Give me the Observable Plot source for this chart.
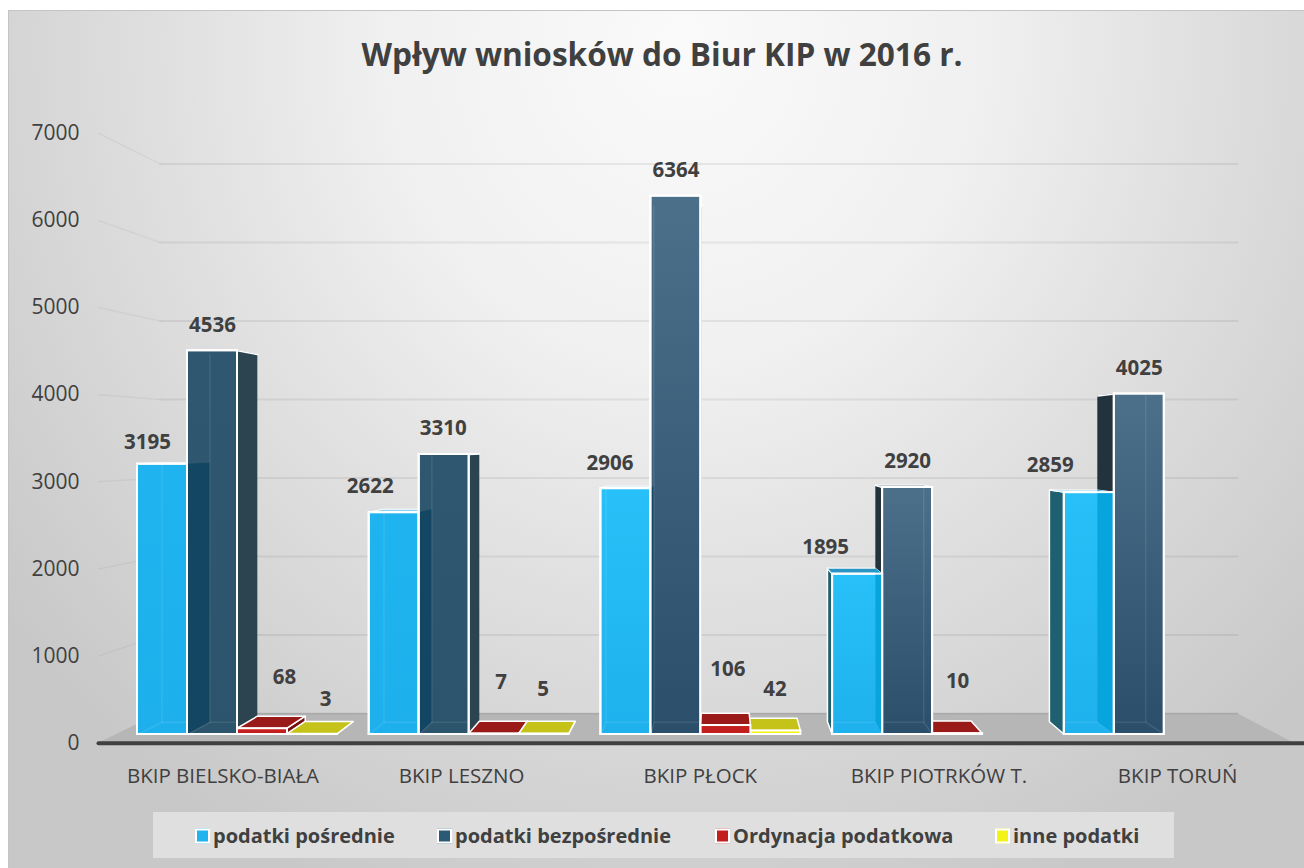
<!DOCTYPE html>
<html lang="pl">
<head>
<meta charset="utf-8">
<script src="https://cdn.jsdelivr.net/npm/d3@7"></script>
<script src="https://cdn.jsdelivr.net/npm/@observablehq/plot@0.6"></script>
<style>
html,body{margin:0;padding:0;background:#fff;overflow:hidden}
body{width:1304px;height:868px;font-family:"Open Sans",sans-serif;color:#404040}
#outer{padding:10px 0 0 8px;width:1296px;height:858px}
#panel{width:1296px;height:858px;overflow:hidden;box-sizing:border-box;
 border-top:1px solid #c4c4c4;border-left:1px solid #c4c4c4;
 background:radial-gradient(ellipse 66% 108% at 52% 4%,#fafafa 0%,#f0f0f0 35%,#e0e0e0 60%,#c8c8c8 100%)}
#title{height:86px;line-height:86px;padding-left:11px;text-align:center;font-size:31.6px;font-weight:700;color:#404040}
#chart{margin-left:-9px;margin-top:3px;height:700px}
#chart svg{display:block;max-width:none;background:transparent}
#legend{position:relative;margin:12px 0 0 144px;width:1021px;height:46px;background:#dfdfdf;display:flex;align-items:center;font-weight:700;font-size:20px;white-space:nowrap}
#legend span.s{display:inline-block;width:11px;height:11px;border:2px solid #fff;margin-right:3px;vertical-align:-1px}
#legend div{position:absolute;top:50%;transform:translateY(-50%)}
</style>
</head>
<body>
<div id="outer"><div id="panel">
<div id="title">Wpływ wniosków do Biur KIP w 2016 r.</div>
<div id="chart"></div>
<div id="legend"></div>
</div></div>
<script>
const categories = ["BKIP BIELSKO-BIAŁA","BKIP LESZNO","BKIP PŁOCK","BKIP PIOTRKÓW T.","BKIP TORUŃ"];
const seriesNames = ["podatki pośrednie","podatki bezpośrednie","Ordynacja podatkowa","inne podatki"];
const podatkiPosrednie = [3195,2622,2906,1895,2859];
const podatkiBezposrednie = [4536,3310,6364,2920,4025];
const ordynacjaPodatkowa = [68,7,106,10,null];
const innePodatki = [3,5,42,null,null];
const valueTicks = [0,1000,2000,3000,4000,5000,6000,7000];

// layout only: pixel nudges of the value labels relative to the top of each bar
const labelDx = [[-15,0,22,13],[-24,-1,7,-1],[-16,0,2,-1],[-32,0,0,0],[-39,0,0,0]];
const labelDy = [[-22,-25,-51,-35],[-26,-26,-51,-45],[-25,-26,-56,-42],[-27,-26,-52,0],[-27,-26,0,0]];

const series = [podatkiPosrednie,podatkiBezposrednie,ordynacjaPodatkowa,innePodatki];
const W = 1304, H = 700;
const pxPerGroup = 231.7, pxPerUnit = 0.0846;
const xDomain = [-137/pxPerGroup,(W-137)/pxPerGroup];
const yDomain = [-66/pxPerUnit,634/pxPerUnit];
const barW = 50/pxPerGroup;
// vanishing point of the 3-D view in data units
const vx = (721-137)/pxPerGroup, vy = (734-442)/pxPerUnit;
const K = 0.042, WALL = 0.072, FRONT = -0.03;
const floorL = -0.09, floorR = 4.92;
const pr = (x,v,k=K)=>[x+k*(vx-x),v+k*(vy-v)];

const quad=(a,b,c,d,o)=>Plot.area([
  {x1:a[0],y1:a[1],x2:d[0],y2:d[1]},
  {x1:b[0],y1:b[1],x2:c[0],y2:c[1]}],
  {x1:"x1",y1:"y1",x2:"x2",y2:"y2",strokeLinejoin:"round",...o});
const poly=(pts,o)=>Plot.line(pts.map(p=>({x:p[0],y:p[1]})),{x:"x",y:"y",...o});

const frontFill=[
  g=>g<2?"url(#lightFlat)":"url(#lightShade)",
  g=>g<2?"url(#darkFlat)":"url(#darkShade)",
  ()=>"#c41f1f",
  ()=>"#f3f315"];
const topFill=[
  g=>g===3?"#2a95c5":"#86d4f2",
  ()=>"#5f7f95",
  ()=>"#9a1a1a",
  ()=>"#c5c31a"];
const sideFill=[
  g=>g<3?"#0f4866":"#1f6070",
  g=>g<3?"#2c4350":"#22333e",
  ()=>"#7a1010",
  ()=>"#9a9a10"];

const defs=()=>{
  const d=d3.create("svg:defs");
  const grad=(id,a,b)=>{
    const l=d.append("linearGradient").attr("id",id).attr("x1",0).attr("y1",0).attr("x2",0).attr("y2",1);
    l.append("stop").attr("offset","0%").attr("stop-color",a);
    l.append("stop").attr("offset","100%").attr("stop-color",b);
  };
  grad("lightFlat","#1fb4ef","#1db0ec");
  grad("lightShade","#28c0f8","#1eb1ed");
  grad("darkFlat","#2f5870","#2c546c");
  grad("darkShade","#4c708a","#2b4f6b");
  return d.node();
};

const marks=[defs];

// floor
marks.push(quad(pr(floorL,0,WALL),pr(floorR,0,WALL),pr(floorR,0,FRONT),pr(floorL,0,FRONT),{fill:"#b6b6b6"}));

// gridlines on the side and back wall
for(const t of valueTicks){
  if(t>0) marks.push(poly([pr(floorL,t,FRONT),pr(floorL,t,WALL)],{stroke:"#000",strokeWidth:1.5,strokeOpacity:.045}));
  marks.push(poly([pr(floorL,t,WALL),pr(floorR,t,WALL)],{stroke:"#000",strokeWidth:2,strokeOpacity:.065}));
}

// bars
categories.forEach((cat,g)=>{
  const bars=series.map((s,b)=>({b,v:s[g],x0:g+b*barW,x1:g+(b+1)*barW})).filter(d=>d.v!=null);
  const ordered=[...bars].sort((p,q)=>Math.abs((q.x0+q.x1)/2-vx)-Math.abs((p.x0+p.x1)/2-vx));
  for(const d of ordered){
    const {b,v,x0,x1}=d;
    const outlined=b>=2||(b===0&&x0>=vx);
    const sideStyle=outlined?{stroke:"#fff",strokeWidth:1.5}:{};
    const sx=x1<=vx?x1:(x0>=vx?x0:null);
    if(sx!=null){
      marks.push(quad([sx,v],pr(sx,v),pr(sx,0),[sx,0],{fill:sideFill[b](g),...sideStyle}));
      if(!outlined) marks.push(poly([[sx,v],pr(sx,v)],{stroke:"#fff",strokeWidth:1.5}));
    }
    if(v<vy) marks.push(quad(pr(x0,v),pr(x1,v),[x1,v],[x0,v],{fill:topFill[b](g),stroke:"#fff",strokeWidth:b<2?1:1.5}));
    marks.push(Plot.rect([d],{x1:"x0",x2:"x1",y1:0,y2:"v",fill:frontFill[b](g),stroke:"#fff",strokeWidth:2}));
    if(b<2){
      // faint back edges of the glass box, seen through its front
      const far=x1<=vx?x0:x1, other=x1<=vx?x1:x0;
      const bk=pr(far,0);
      marks.push(poly([[far,0],bk,pr(far,v)],{stroke:"#fff",strokeOpacity:.09,strokeWidth:1.5}));
      marks.push(poly([bk,[other,bk[1]]],{stroke:"#fff",strokeOpacity:.09,strokeWidth:1.5}));
    }
  }
  // side of the neighbouring bar seen through the front bar
  const [a,c]=bars;
  const m=Math.min(a.v,c.v), edge=a.x1;
  const tint=g<3?"#124663":"#08a4dd";
  marks.push(quad([edge,m],pr(edge,m),pr(edge,0),[edge,0],{fill:tint}));
  marks.push(Plot.rect([a,c],{x1:"x0",x2:"x1",y1:0,y2:"v",fill:"none",stroke:"#fff",strokeWidth:2}));
});

// front edge of the floor
marks.push(poly([pr(floorL,0,FRONT),[xDomain[1],pr(floorL,0,FRONT)[1]]],{stroke:"#404040",strokeWidth:4}));

// value labels
series.forEach((s,b)=>s.forEach((v,g)=>{
  if(v==null) return;
  marks.push(Plot.text([v],{x:g+(b+.5)*barW,y:d=>d,text:d=>String(d),
    dx:labelDx[g][b],dy:labelDy[g][b],fontSize:20.5,fontWeight:700,fill:"#404040"}));
}));

// value axis labels
marks.push(Plot.text(valueTicks,{text:t=>String(t),
  x:t=>pr(floorL,t,FRONT)[0],y:t=>pr(floorL,t,FRONT)[1],
  textAnchor:"end",dx:-19,fontSize:21,fill:"#404040"}));

// category labels
marks.push(Plot.text(categories,{
  x:(d,i)=>pr(i+2*barW,0,FRONT)[0],y:(d,i)=>pr(i+2*barW,0,FRONT)[1],text:d=>d,
  dy:33,fontSize:20.5,fill:"#404040"}));

const chart=Plot.plot({
  width:W,height:H,margin:0,
  x:{domain:xDomain,range:[0,W],axis:null},
  y:{domain:yDomain,range:[H,0],axis:null},
  style:{fontFamily:'"Open Sans",sans-serif',background:"transparent",overflow:"visible"},
  marks
});
document.getElementById("chart").append(chart);

const swatchColors=["#1fb4ef","#2b5a76","#c41f1f","#f3f315"];
const legendX=[42,284,562,842];
const lg=document.getElementById("legend");
seriesNames.forEach((n,i)=>{
  const it=document.createElement("div");
  it.style.left=legendX[i]+"px";
  const s=document.createElement("span");
  s.className="s";s.style.background=swatchColors[i];
  it.append(s,document.createTextNode(n));
  lg.append(it);
});
</script>
</body>
</html>
